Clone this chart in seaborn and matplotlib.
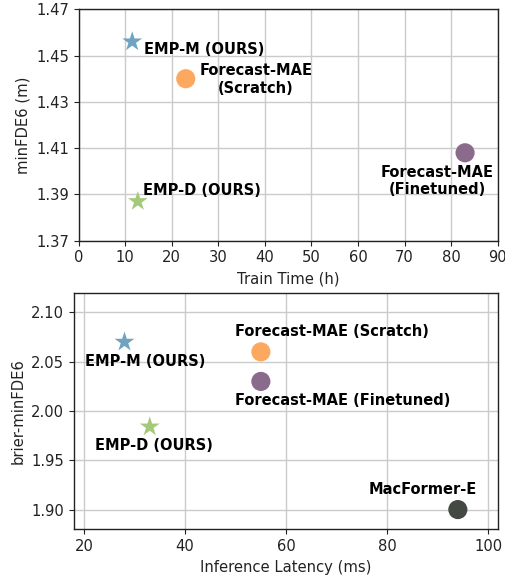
import pandas as pd
import matplotlib
matplotlib.use("Agg")
import matplotlib.pyplot as plt
import seaborn as sns

# --- data ---
train_models = ["EMP-M (OURS)", "Forecast-MAE\n(Scratch)", "Forecast-MAE\n(Finetuned)", "EMP-D (OURS)"]
train_time = [11.5, 23.0, 83.0, 12.7]
train_fde = [1.456, 1.440, 1.408, 1.387]

lat_models = ["EMP-M (OURS)", "Forecast-MAE (Scratch)", "Forecast-MAE (Finetuned)",
              "EMP-D (OURS)", "MacFormer-E"]
latency = [28, 55, 55, 33, 94]
brier_fde = [2.070, 2.060, 2.030, 1.984, 1.900]

# colour / marker per model family
families_top = ["emp_m", "fmae_s", "fmae_f", "emp_d"]
families_bot = ["emp_m", "fmae_s", "fmae_f", "emp_d", "macformer"]
palette = {"emp_m": "#6fa3c0", "fmae_s": "#fca85f", "fmae_f": "#8b6b8b",
           "emp_d": "#a5c97a", "macformer": "#434a44"}
markers = {"emp_m": "*", "fmae_s": "o", "fmae_f": "o", "emp_d": "*", "macformer": "o"}
sizes = {"emp_m": 225, "fmae_s": 190, "fmae_f": 190, "emp_d": 225, "macformer": 190}

# label positions (data coords) for the annotations
top_label_xy = [(14.0, 1.4528, "left"), (38.1, 1.4396, "center"),
                (77.1, 1.3957, "center"), (13.75, 1.3919, "left")]
bot_label_xy = [(32.0, 2.0503), (69.1, 2.0807), (71.2, 2.0107), (33.9, 1.965), (87.1, 1.920)]

sns.set_theme(style="ticks", rc={
    "axes.edgecolor": "#222222", "axes.linewidth": 1.0,
    "xtick.major.size": 3.5, "ytick.major.size": 3.5,
    "xtick.major.width": 0.8, "ytick.major.width": 0.8,
    "xtick.color": "#222222", "ytick.color": "#222222",
    "text.color": "#000000", "axes.labelcolor": "#222222",
    "font.size": 10.6, "axes.labelsize": 10.6,
    "xtick.labelsize": 10.6, "ytick.labelsize": 10.6,
})
plt.rcParams["font.family"] = ["DejaVu Sans"]

df_top = pd.DataFrame({"model": train_models, "fam": families_top, "x": train_time, "y": train_fde})
df_bot = pd.DataFrame({"model": lat_models, "fam": families_bot, "x": latency, "y": brier_fde})

fig = plt.figure(figsize=(5.06, 5.77), dpi=100)
ax1 = fig.add_axes([0.1555, 0.5828, 0.828, 0.4011])
ax2 = fig.add_axes([0.1462, 0.0827, 0.8385, 0.41])

for ax in (ax1, ax2):
    ax.grid(True, color="#cbcbcb", linewidth=1.0)
    ax.set_axisbelow(True)

# top: train time vs minFDE6
sns.scatterplot(data=df_top, x="x", y="y", hue="fam", style="fam", size="fam",
                palette=palette, markers=markers, sizes=sizes, linewidth=0,
                legend=False, ax=ax1, zorder=3)
for (tx, ty, ha), name in zip(top_label_xy, train_models):
    ax1.text(tx, ty, name, ha=ha, va="center", multialignment="center",
             fontweight="bold", fontsize=10.5)
ax1.set_xlim(0, 90)
ax1.set_ylim(1.37, 1.47)
ax1.set_xticks(range(0, 91, 10))
ax1.set_yticks([1.37, 1.39, 1.41, 1.43, 1.45, 1.47])
ax1.set_xlabel("Train Time (h)")
ax1.set_ylabel("minFDE6 (m)")

# bottom: inference latency vs brier-minFDE6
sns.scatterplot(data=df_bot, x="x", y="y", hue="fam", style="fam", size="fam",
                palette=palette, markers=markers, sizes=sizes, linewidth=0,
                legend=False, ax=ax2, zorder=3)
for (tx, ty), name in zip(bot_label_xy, lat_models):
    ax2.text(tx, ty, name, ha="center", va="center", fontweight="bold", fontsize=10.5)
ax2.set_xlim(18, 102)
ax2.set_ylim(1.88, 2.12)
ax2.set_xticks([20, 40, 60, 80, 100])
ax2.set_yticks([1.90, 1.95, 2.00, 2.05, 2.10])
ax2.set_yticklabels([f"{v:.2f}" for v in [1.90, 1.95, 2.00, 2.05, 2.10]])
ax2.set_xlabel("Inference Latency (ms)")
ax2.set_ylabel("brier-minFDE6")

fig.savefig("out.png", dpi=100)
